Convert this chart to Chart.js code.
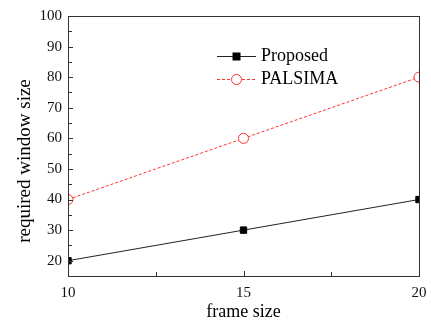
<!DOCTYPE html>
<html>
<head>
<meta charset="utf-8">
<script src="https://cdn.jsdelivr.net/npm/chart.js@4/dist/chart.umd.min.js"></script>
<style>
  html, body { margin: 0; padding: 0; background: #fff; }
  #wrap { width: 431px; height: 327px; position: relative; }
</style>
</head>
<body>
<div id="wrap"><canvas id="c"></canvas></div>
<script>
const frameSizes   = [10, 15, 20];
const proposed     = [20, 30, 40];
const palsima      = [40, 60, 80];
const xTickValues  = [10, 15, 20];
const yTickValues  = [20, 30, 40, 50, 60, 70, 80, 90, 100];
const seriesNames  = ['Proposed', 'PALSIMA'];
const yTitle       = 'required window size';

const SERIF = '"Liberation Serif", "Times New Roman", serif';

// frame + inward ticks, like the original plot
const framePlugin = {
  id: 'frame',
  afterDraw(chart) {
    const { ctx, chartArea: a, scales: { x, y } } = chart;
    ctx.save();
    ctx.strokeStyle = '#333';
    ctx.lineWidth = 1;
    ctx.strokeRect(a.left + 0.5, a.top + 0.5, a.right - a.left, a.bottom - a.top);
    ctx.beginPath();
    for (let v = 10; v <= 20; v += 2.5) {
      const px = Math.round(x.getPixelForValue(v)) + 0.5;
      const len = v % 5 === 0 ? 5 : 4;
      ctx.moveTo(px, a.bottom); ctx.lineTo(px, a.bottom - len);
    }
    for (let v = 15; v <= 100; v += 5) {
      const py = Math.round(y.getPixelForValue(v)) + 0.5;
      const len = v % 10 === 0 ? 5 : 4;
      ctx.moveTo(a.left, py); ctx.lineTo(a.left + len, py);
    }
    ctx.stroke();

    // y title sits a bit below the plot centre in the original
    ctx.translate(25, 161);
    ctx.rotate(-Math.PI / 2);
    ctx.fillStyle = '#000';
    ctx.font = '19px ' + SERIF;
    ctx.textAlign = 'center';
    ctx.textBaseline = 'middle';
    ctx.fillText(yTitle, 0, 0);
    ctx.restore();
  }
};

// legend drawn inside the plot
const legendPlugin = {
  id: 'inLegend',
  afterDraw(chart) {
    const { ctx } = chart;
    const x0 = 217, x1 = 256, tx = 261;
    const rows = [56, 79];
    ctx.save();
    chart.data.datasets.forEach((ds, i) => {
      const yy = rows[i] + 0.5;
      ctx.strokeStyle = ds.borderColor;
      ctx.lineWidth = 1;
      ctx.setLineDash(ds.borderDash || []);
      ctx.beginPath(); ctx.moveTo(x0, yy); ctx.lineTo(x1, yy); ctx.stroke();
      ctx.setLineDash([]);
      const mx = (x0 + x1) / 2;
      if (ds.pointStyle === 'rect') {
        ctx.fillStyle = ds.pointBackgroundColor;
        ctx.fillRect(mx - 4, yy - 4, 8, 8);
      } else {
        ctx.fillStyle = '#fff';
        ctx.strokeStyle = ds.pointBorderColor;
        ctx.beginPath(); ctx.arc(mx, yy, 5, 0, Math.PI * 2); ctx.fill(); ctx.stroke();
      }
      ctx.fillStyle = '#000';
      ctx.font = '18px ' + SERIF;
      ctx.textBaseline = 'middle';
      ctx.fillText(ds.label, tx, yy);
    });
    ctx.restore();
  }
};

new Chart(document.getElementById('c'), {
  type: 'line',
  data: {
    datasets: [
      {
        label: seriesNames[0],
        data: frameSizes.map((f, i) => ({ x: f, y: proposed[i] })),
        borderColor: '#222',
        borderWidth: 1,
        pointStyle: 'rect',
        pointRadius: 4.5,
        pointBackgroundColor: '#000',
        pointBorderColor: '#000',
        clip: 0,
      },
      {
        label: seriesNames[1],
        data: frameSizes.map((f, i) => ({ x: f, y: palsima[i] })),
        borderColor: '#ff3030',
        borderWidth: 1,
        borderDash: [3, 2],
        pointStyle: 'circle',
        pointRadius: 5,
        pointBackgroundColor: '#fff',
        pointBorderColor: '#ff3030',
        pointBorderWidth: 1,
        clip: 0,
      }
    ]
  },
  options: {
    responsive: true,
    maintainAspectRatio: false,
    animation: false,
    layout: { padding: { top: 16, right: 12, left: 0, bottom: 0 } },
    plugins: { legend: { display: false }, tooltip: { enabled: false } },
    scales: {
      x: {
        type: 'linear',
        min: 10, max: 20,
        afterBuildTicks: s => { s.ticks = xTickValues.map(v => ({ value: v })); },
        afterFit: s => { s.height = 51; s.paddingRight = 0; s.paddingLeft = 0; },
        grid: { display: false, drawTicks: false },
        border: { display: false },
        ticks: { color: '#111', padding: 8, font: { family: SERIF, size: 15 } },
        title: { display: true, text: 'frame size', color: '#000', padding: { top: 4 },
                 font: { family: SERIF, size: 18 } }
      },
      y: {
        min: 15, max: 100,
        afterBuildTicks: s => { s.ticks = yTickValues.map(v => ({ value: v })); },
        afterFit: s => { s.width = 68; },
        grid: { display: false, drawTicks: false },
        border: { display: false },
        ticks: { color: '#111', padding: 6, font: { family: SERIF, size: 15 } }
      }
    }
  },
  plugins: [framePlugin, legendPlugin]
});
</script>
</body>
</html>
